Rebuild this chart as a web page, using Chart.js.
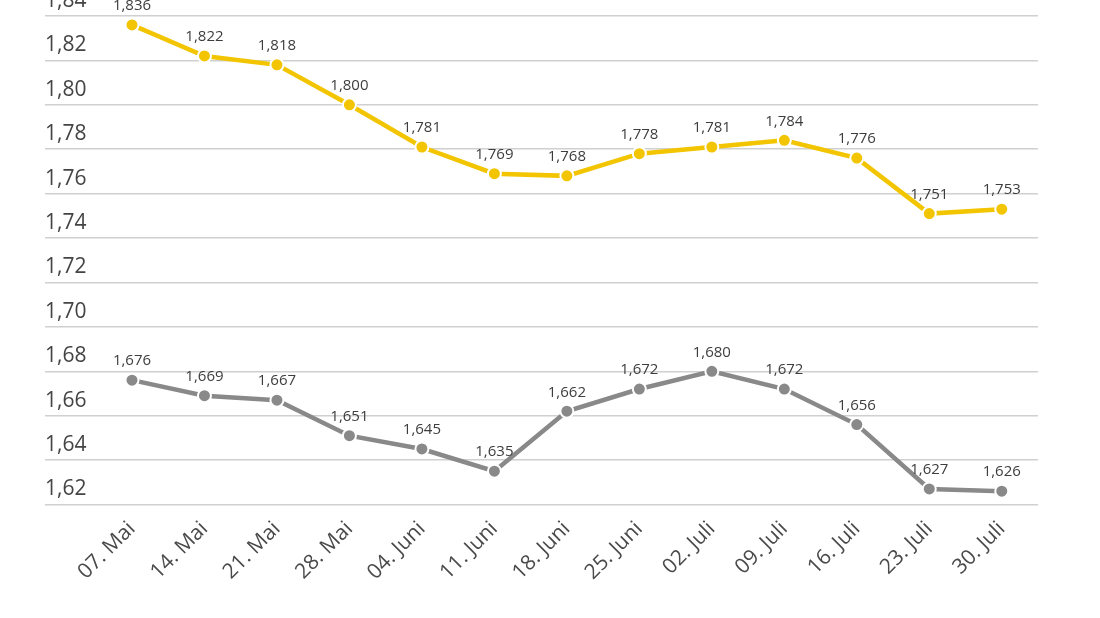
<!DOCTYPE html>
<html>
<head>
<meta charset="utf-8">
<script src="https://cdn.jsdelivr.net/npm/chart.js@4"></script>
<style>
  html, body { margin: 0; padding: 0; background: #fff; }
</style>
</head>
<body>
<canvas id="priceChart" width="1100" height="618"></canvas>
<script>
// week labels + weekly prices (EUR/l)
const weeks = ["07. Mai", "14. Mai", "21. Mai", "28. Mai", "04. Juni", "11. Juni", "18. Juni",
  "25. Juni", "02. Juli", "09. Juli", "16. Juli", "23. Juli", "30. Juli"];
const upperPrices = [1.836, 1.822, 1.818, 1.800, 1.781, 1.769, 1.768, 1.778, 1.781, 1.784, 1.776, 1.751, 1.753];
const lowerPrices = [1.676, 1.669, 1.667, 1.651, 1.645, 1.635, 1.662, 1.672, 1.680, 1.672, 1.656, 1.627, 1.626];
const yTicks = [1.62, 1.64, 1.66, 1.68, 1.70, 1.72, 1.74, 1.76, 1.78, 1.80, 1.82, 1.84];

const fmt = (v, d) => v.toFixed(d).replace(".", ",");

// draws the value above every point
const valueLabels = {
  id: "valueLabels",
  afterDatasetsDraw(chart) {
    const ctx = chart.ctx;
    ctx.save();
    ctx.font = "15px 'Open Sans'";
    ctx.fillStyle = "#3d3d3d";
    ctx.textAlign = "center";
    ctx.textBaseline = "middle";
    chart.data.datasets.forEach((ds, i) => {
      chart.getDatasetMeta(i).data.forEach((pt, j) => {
        ctx.fillText(fmt(ds.data[j].y, 3), pt.x, pt.y - 19);
      });
    });
    ctx.restore();
  }
};

const toPoints = (arr) => arr.map((v, i) => ({ x: i, y: v }));

new Chart(document.getElementById("priceChart"), {
  type: "line",
  data: {
    datasets: [
      {
        data: toPoints(upperPrices),
        borderColor: "#f2c500",
        backgroundColor: "#f2c500",
        pointBackgroundColor: "#f2c500",
      },
      {
        data: toPoints(lowerPrices),
        borderColor: "#898989",
        backgroundColor: "#898989",
        pointBackgroundColor: "#898989",
      },
    ].map((ds) => ({
      ...ds,
      borderWidth: 4.5,
      pointRadius: 6.5,
      pointBorderWidth: 2,
      pointBorderColor: "#fff",
      tension: 0,
    })),
  },
  options: {
    responsive: false,
    animation: false,
    layout: { padding: { left: 45, right: 62, top: 16, bottom: 29 } },
    plugins: { legend: { display: false }, tooltip: { enabled: false } },
    scales: {
      x: {
        type: "linear",
        min: -1.2,
        max: 12.5,
        afterBuildTicks: (axis) => { axis.ticks = weeks.map((_, i) => ({ value: i })); },
        grid: { display: false },
        border: { display: false },
        ticks: {
          autoSkip: false,
          minRotation: 45,
          maxRotation: 45,
          padding: 4,
          color: "#4a4a4a",
          font: { family: "'Open Sans'", size: 21 },
          callback: (v) => weeks[v],
        },
      },
      y: {
        min: 1.62,
        max: 1.84,
        afterBuildTicks: (axis) => { axis.ticks = yTicks.map((v) => ({ value: v })); },
        grid: { color: "#d0d0d0", lineWidth: 1.5, drawTicks: false },
        border: { display: false },
        ticks: {
          mirror: true,
          padding: 0,
          labelOffset: -15,
          color: "#444",
          font: { family: "'Open Sans'", size: 21 },
          callback: (v) => fmt(v, 2),
        },
      },
    },
  },
  plugins: [valueLabels],
});
</script>
</body>
</html>
